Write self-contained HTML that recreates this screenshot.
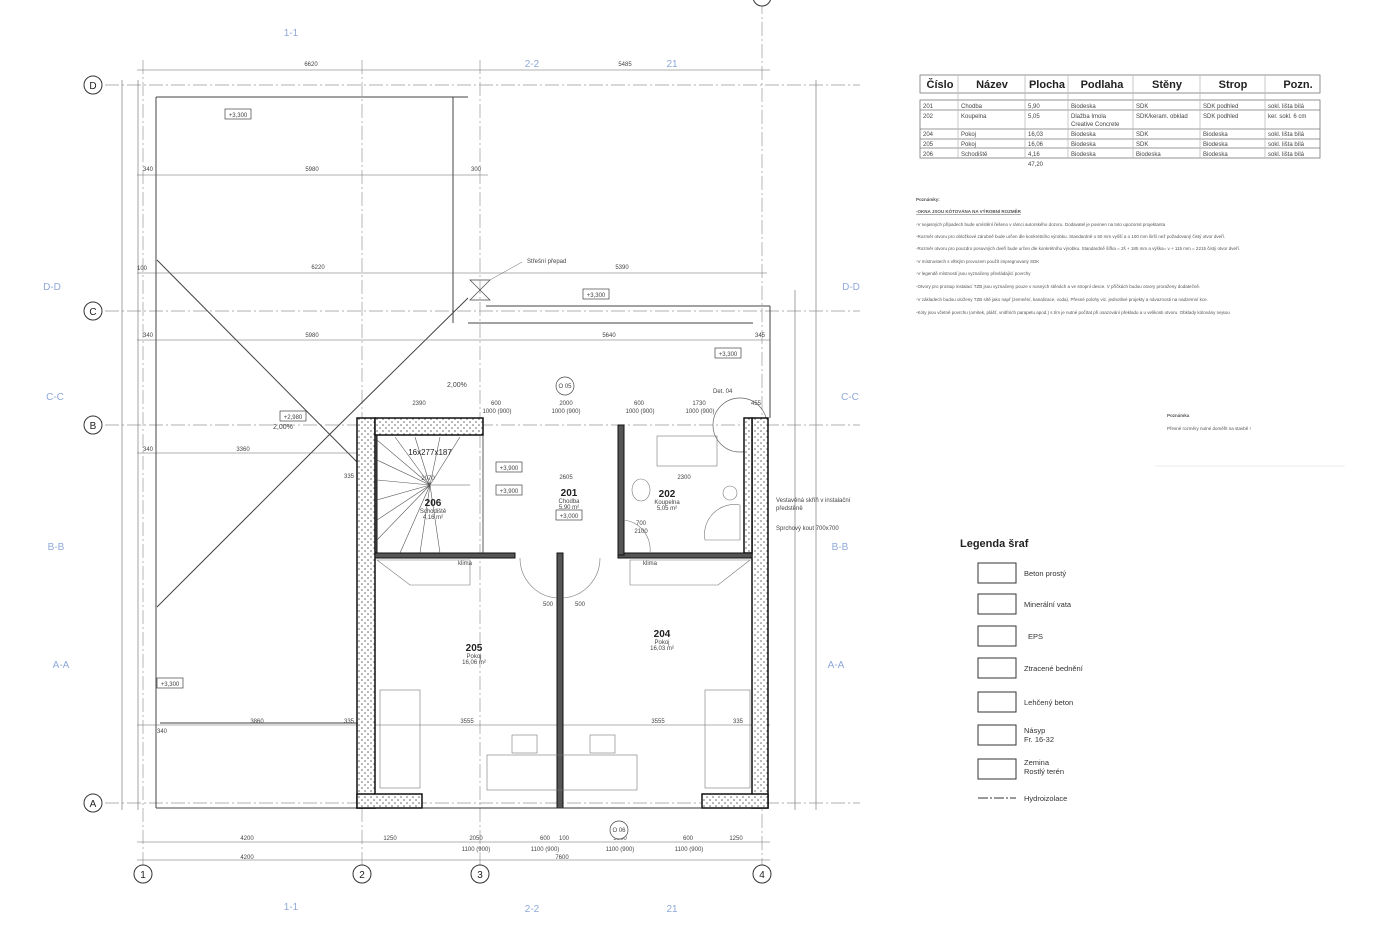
<!DOCTYPE html>
<html><head><meta charset="utf-8"><style>
html,body{margin:0;padding:0;background:#fff;}
svg{display:block;font-family:"Liberation Sans",sans-serif;}
.t{font-size:6px;fill:#444;}
.g{fill:#8fa8d8;font-size:10px;}
</style></head><body>
<svg width="1400" height="932" viewBox="0 0 1400 932" xmlns="http://www.w3.org/2000/svg">
<rect width="1400" height="932" fill="#fff"/>
<defs><pattern id="h" width="6" height="6" patternUnits="userSpaceOnUse"><rect width="6" height="6" fill="#fff"/><circle cx="2" cy="2" r="0.8" fill="#666"/><circle cx="5" cy="5" r="0.8" fill="#666"/></pattern></defs>
<g stroke="#999" stroke-width="0.7" stroke-dasharray="14 3 2 3">
<line x1="105" y1="85" x2="860" y2="85"/><line x1="105" y1="311" x2="860" y2="311"/>
<line x1="105" y1="425" x2="860" y2="425"/><line x1="105" y1="803" x2="860" y2="803"/>
<line x1="143" y1="60" x2="143" y2="865"/><line x1="362" y1="60" x2="362" y2="865"/>
<line x1="480" y1="60" x2="480" y2="865"/><line x1="762" y1="0" x2="762" y2="865"/>
</g>
<g fill="#fff" stroke="#333" stroke-width="1">
<circle cx="93" cy="85" r="9"/><circle cx="93" cy="311" r="9"/><circle cx="93" cy="425" r="9"/><circle cx="93" cy="803" r="9"/>
<circle cx="143" cy="874" r="9"/><circle cx="362" cy="874" r="9"/><circle cx="480" cy="874" r="9"/><circle cx="762" cy="874" r="9"/>
<circle cx="762" cy="-3" r="9"/>
</g>
<g font-size="10" text-anchor="middle" fill="#222">
<text x="93" y="89">D</text><text x="93" y="315">C</text><text x="93" y="429">B</text><text x="93" y="807">A</text>
<text x="143" y="878">1</text><text x="362" y="878">2</text><text x="480" y="878">3</text><text x="762" y="878">4</text>
</g>
<g class="g" text-anchor="middle">
<text x="291" y="36">1-1</text><text x="532" y="67">2-2</text><text x="672" y="67">21</text>
<text x="52" y="290">D-D</text><text x="851" y="290">D-D</text><text x="55" y="400">C-C</text><text x="850" y="400">C-C</text>
<text x="56" y="550">B-B</text><text x="840" y="550">B-B</text><text x="61" y="668">A-A</text><text x="836" y="668">A-A</text>
<text x="291" y="910">1-1</text><text x="532" y="912">2-2</text><text x="672" y="912">21</text>
</g>
<!-- roof outline -->
<g stroke="#444" stroke-width="1" fill="none">
<line x1="156" y1="97" x2="468" y2="97"/>
<line x1="453" y1="97" x2="453" y2="323"/>
<line x1="468" y1="323" x2="753" y2="323"/>
<line x1="486" y1="306" x2="770" y2="306"/><line x1="770" y1="306" x2="770" y2="418"/>
<line x1="156" y1="97" x2="156" y2="808"/>
<line x1="156" y1="808" x2="357" y2="808"/>
<path d="M157 260 L357 462"/><path d="M157 607 L330 434 L468 298"/>
<line x1="160" y1="723" x2="357" y2="723"/>
<path d="M470 280 L490 280 L470 300 L490 300 Z" stroke-width="0.7"/>
</g>
<g stroke="#666" stroke-width="0.6">
<line x1="137" y1="70" x2="770" y2="70"/><line x1="137" y1="175" x2="488" y2="175"/>
<line x1="137" y1="273" x2="767" y2="273"/><line x1="137" y1="340" x2="770" y2="340"/>
<line x1="137" y1="453" x2="357" y2="453"/><line x1="137" y1="725" x2="770" y2="725"/>
<line x1="137" y1="842" x2="770" y2="842"/><line x1="137" y1="860" x2="770" y2="860"/>
<line x1="122" y1="80" x2="122" y2="810"/><line x1="816" y1="80" x2="816" y2="810"/><line x1="795" y1="290" x2="795" y2="810"/>
<line x1="138" y1="80" x2="138" y2="810"/>
</g>
<g class="t" text-anchor="middle">
<text x="311" y="66">6620</text><text x="625" y="66">5485</text>
<text x="148" y="171">340</text><text x="312" y="171">5980</text><text x="476" y="171">300</text>
<text x="318" y="269">6220</text><text x="622" y="269">5390</text><text x="142" y="270">100</text>
<text x="148" y="337">340</text><text x="312" y="337">5980</text><text x="609" y="337">5640</text><text x="760" y="337">345</text>
<text x="148" y="451">340</text><text x="243" y="451">3360</text><text x="349" y="478">335</text>
<text x="419" y="405">2390</text><text x="566" y="405">2000</text><text x="496" y="405">600</text><text x="639" y="405">600</text><text x="699" y="405">1730</text><text x="756" y="405">455</text>
<text x="497" y="413">1000 (900)</text><text x="566" y="413">1000 (900)</text><text x="640" y="413">1000 (900)</text><text x="700" y="413">1000 (900)</text>
<text x="257" y="723">3860</text><text x="349" y="723">335</text><text x="467" y="723">3555</text><text x="658" y="723">3555</text><text x="738" y="723">335</text><text x="162" y="733">340</text>
<text x="247" y="840">4200</text><text x="390" y="840">1250</text><text x="476" y="840">2050</text><text x="545" y="840">600</text><text x="564" y="840">100</text><text x="620" y="840">3000</text><text x="688" y="840">600</text><text x="736" y="840">1250</text>
<text x="476" y="851">1100 (900)</text><text x="545" y="851">1100 (900)</text><text x="620" y="851">1100 (900)</text><text x="689" y="851">1100 (900)</text>
<text x="247" y="859">4200</text><text x="562" y="859">7600</text>
<text x="566" y="479">2605</text><text x="684" y="479">2300</text><text x="428" y="480">2070</text>
<text x="548" y="606">500</text><text x="580" y="606">500</text>
</g>
<g class="t">
<text x="527" y="263" font-size="6">Střešní přepad</text>
<line x1="490" y1="280" x2="522" y2="262" stroke="#666" stroke-width="0.5"/>
<text x="447" y="387" font-size="7">2,00%</text><text x="273" y="429" font-size="7">2,00%</text>
<text x="713" y="393" font-size="6">Det. 04</text>
<text x="776" y="502" font-size="6">Vestavěná skříň v instalační</text><text x="776" y="510" font-size="6">předstěně</text>
<text x="776" y="530" font-size="6">Sprchový kout 700x700</text>
</g>
<g fill="#fff" stroke="#444" stroke-width="0.7">
<rect x="225" y="109" width="26" height="10"/><rect x="583" y="289" width="26" height="10"/>
<rect x="715" y="348" width="26" height="10"/><rect x="280" y="411" width="26" height="10"/>
<rect x="157" y="678" width="26" height="10"/>
<rect x="496" y="462" width="26" height="10"/><rect x="496" y="485" width="26" height="10"/><rect x="556" y="510" width="26" height="10"/>
</g>
<g class="t" text-anchor="middle">
<text x="238" y="117">+3,300</text><text x="596" y="297">+3,300</text><text x="728" y="356">+3,300</text><text x="293" y="419">+2,980</text>
<text x="170" y="686">+3,300</text><text x="509" y="470">+3,900</text><text x="509" y="493">+3,900</text><text x="569" y="518">+3,000</text>
</g>
<circle cx="565" cy="386" r="9" fill="#fff" stroke="#444" stroke-width="0.7"/><text x="565" y="388" class="t" text-anchor="middle">O 05</text>
<circle cx="619" cy="830" r="9" fill="#fff" stroke="#444" stroke-width="0.7"/><text x="619" y="832" class="t" text-anchor="middle">O 06</text>
<circle cx="740" cy="425" r="27" fill="none" stroke="#666" stroke-width="0.7"/>
<!-- walls -->
<g fill="url(#h)" stroke="#111" stroke-width="1.5">
<rect x="357" y="418" width="18" height="390"/>
<rect x="752" y="418" width="16" height="390"/>
<rect x="744" y="418" width="8" height="135"/>
<rect x="357" y="794" width="65" height="14"/>
<rect x="702" y="794" width="66" height="14"/>
<rect x="375" y="418" width="108" height="17"/>
</g>
<g fill="#555" stroke="#111" stroke-width="1">
<rect x="375" y="553" width="140" height="5"/><rect x="618" y="553" width="134" height="5"/>
<rect x="557" y="553" width="6" height="255"/><rect x="618" y="425" width="6" height="130"/>
<rect x="375" y="435" width="2" height="118"/>
</g>
<line x1="483" y1="553" x2="483" y2="435" stroke="#333" stroke-width="0.8"/>
<line x1="422" y1="808" x2="702" y2="808" stroke="#333" stroke-width="1"/>
<g stroke="#555" stroke-width="0.6" fill="none">
<path d="M430 485 L377 440 M430 485 L395 437 M430 485 L415 437 M430 485 L440 437 M430 485 L460 437 M430 485 L377 460 M430 485 L377 480 M430 485 L377 500 M430 485 L377 520 M430 485 L377 540 M430 485 L400 553 M430 485 L420 553 M430 485 L440 553"/>
<line x1="430" y1="485" x2="470" y2="485"/>
</g>
<g stroke="#777" stroke-width="0.6" fill="none">
<rect x="657" y="436" width="60" height="30"/>
<ellipse cx="641" cy="490" rx="9" ry="11"/><circle cx="730" cy="493" r="7"/>
<path d="M740 505 A30 30 0 0 0 705 540 H740 Z"/>
<path d="M377 560 L410 585 H470 L470 560 Z"/><path d="M750 560 L718 585 H630 L630 560 Z"/>
<rect x="380" y="690" width="40" height="98"/><rect x="705" y="690" width="45" height="98"/>
<rect x="512" y="735" width="25" height="18"/><rect x="590" y="735" width="25" height="18"/>
<rect x="487" y="755" width="150" height="35"/>
<path d="M520 558 A40 40 0 0 0 557 598"/><path d="M600 558 A40 40 0 0 1 563 598"/>
<path d="M624 520 A30 30 0 0 1 650 553"/>
</g>
<g text-anchor="middle" fill="#222">
<text x="433" y="506" font-size="10" font-weight="bold">206</text><text x="433" y="513" class="t">Schodiště</text><text x="433" y="519" class="t">4,16 m²</text>
<text x="430" y="455" font-size="8">16x277x187</text>
<text x="569" y="496" font-size="10" font-weight="bold">201</text><text x="569" y="503" class="t">Chodba</text><text x="569" y="509" class="t">5,90 m²</text>
<text x="667" y="497" font-size="10" font-weight="bold">202</text><text x="667" y="504" class="t">Koupelna</text><text x="667" y="510" class="t">5,05 m²</text>
<text x="474" y="651" font-size="10" font-weight="bold">205</text><text x="474" y="658" class="t">Pokoj</text><text x="474" y="664" class="t">16,06 m²</text>
<text x="662" y="637" font-size="10" font-weight="bold">204</text><text x="662" y="644" class="t">Pokoj</text><text x="662" y="650" class="t">16,03 m²</text>
<text x="641" y="525" class="t">700</text><text x="641" y="533" class="t">2100</text>
<text x="465" y="565" class="t">klima</text><text x="650" y="565" class="t">klima</text>
</g>
<g fill="none" stroke="#777" stroke-width="0.8">
<rect x="920" y="75" width="400" height="18"/>
<rect x="920" y="100" width="400" height="58"/>
<line x1="920" y1="110" x2="1320" y2="110"/><line x1="920" y1="129" x2="1320" y2="129"/>
<line x1="920" y1="139" x2="1320" y2="139"/><line x1="920" y1="148" x2="1320" y2="148"/>
<g stroke="#bbb"><line x1="958" y1="75" x2="958" y2="158"/><line x1="1025" y1="75" x2="1025" y2="158"/><line x1="1068" y1="75" x2="1068" y2="158"/><line x1="1133" y1="75" x2="1133" y2="158"/><line x1="1200" y1="75" x2="1200" y2="158"/><line x1="1265" y1="75" x2="1265" y2="158"/></g>
</g>
<g font-size="11" font-weight="bold" fill="#222" text-anchor="middle">
<text x="940" y="88">Číslo</text><text x="992" y="88">Název</text><text x="1047" y="88">Plocha</text><text x="1102" y="88">Podlaha</text><text x="1167" y="88">Stěny</text><text x="1233" y="88">Strop</text><text x="1298" y="88">Pozn.</text>
</g>
<g font-size="6" fill="#444">
<text x="923" y="108">201</text><text x="961" y="108">Chodba</text><text x="1028" y="108">5,90</text><text x="1071" y="108">Biodeska</text><text x="1136" y="108">SDK</text><text x="1203" y="108">SDK podhled</text><text x="1268" y="108">sokl. lišta bílá</text>
<text x="923" y="118">202</text><text x="961" y="118">Koupelna</text><text x="1028" y="118">5,05</text><text x="1071" y="118">Dlažba Imola</text><text x="1071" y="126">Creative Concrete</text><text x="1136" y="118">SDK/keram. obklad</text><text x="1203" y="118">SDK podhled</text><text x="1268" y="118">ker. sokl. 6 cm</text>
<text x="923" y="136">204</text><text x="961" y="136">Pokoj</text><text x="1028" y="136">16,03</text><text x="1071" y="136">Biodeska</text><text x="1136" y="136">SDK</text><text x="1203" y="136">Biodeska</text><text x="1268" y="136">sokl. lišta bílá</text>
<text x="923" y="146">205</text><text x="961" y="146">Pokoj</text><text x="1028" y="146">16,06</text><text x="1071" y="146">Biodeska</text><text x="1136" y="146">SDK</text><text x="1203" y="146">Biodeska</text><text x="1268" y="146">sokl. lišta bílá</text>
<text x="923" y="156">206</text><text x="961" y="156">Schodiště</text><text x="1028" y="156">4,16</text><text x="1071" y="156">Biodeska</text><text x="1136" y="156">Biodeska</text><text x="1203" y="156">Biodeska</text><text x="1268" y="156">sokl. lišta bílá</text>
<text x="1028" y="166">47,20</text>
</g>
<g font-size="4.5" fill="#555">
<text x="916" y="201" font-weight="bold">Poznámky:</text>
<text x="916" y="213" text-decoration="underline" font-weight="bold">-OKNA JSOU KÓTOVÁNA NA VÝROBNÍ ROZMĚR</text>
<text x="916" y="226">-V nejasných případech bude umístění řešeno v rámci autorského dozoru. Dodavatel je povinen na toto upozornit projektanta</text>
<text x="916" y="238">-Rozměr otvoru pro obložkové zárubně bude určen dle konkrétního výrobku. Standardně o 50 mm vyšší a o 100 mm širší než požadovaný čistý otvor dveří.</text>
<text x="916" y="250">-Rozměr otvoru pro pouzdro posuvných dveří bude určen dle konkrétního výrobku. Standardně šířka = 2š + 185 mm a výška= v + 115 mm = 2215 čistý otvor dveří.</text>
<text x="916" y="263">-V místnostech s vlhkým provozem použít impregnovaný SDK</text>
<text x="916" y="275">-V legendě místností jsou vyznačeny převládající povrchy</text>
<text x="916" y="288">-Otvory pro prostup instalací TZB jsou vyznačeny pouze v nosných stěnách a ve stropní desce. V příčkách budou otvory proraženy dodatečně.</text>
<text x="916" y="301">-V základech budou uloženy TZB sítě jako např (zemnění, kanalizace, voda). Přesné polohy viz. jednotlivé projekty a návaznosti na nadzemní kce.</text>
<text x="916" y="314">-Kóty jsou včetně povrchu (omítek, plášť, vnitřních parapetu apod.) s tím je nutné počítat při osazování překladu a u velikosti otvoru. Obklady kótovány nejsou</text>
<text x="1167" y="417" font-weight="bold">Poznámka</text>
<text x="1167" y="430">Přesné rozměry nutné doměřit na stavbě !</text>
</g>
<line x1="1155" y1="466" x2="1345" y2="466" stroke="#eee" stroke-width="1"/>
<text x="960" y="547" font-size="11" font-weight="bold" fill="#222">Legenda šraf</text>
<g fill="none" stroke="#333" stroke-width="1">
<rect x="978" y="563" width="38" height="20"/><rect x="978" y="594" width="38" height="20"/><rect x="978" y="626" width="38" height="20"/>
<rect x="978" y="658" width="38" height="20"/><rect x="978" y="692" width="38" height="20"/><rect x="978" y="725" width="38" height="20"/><rect x="978" y="759" width="38" height="20"/>
<line x1="978" y1="798" x2="1016" y2="798" stroke-dasharray="10 2 2 2"/>
</g>
<g font-size="7.5" fill="#333">
<text x="1024" y="576">Beton prostý</text><text x="1024" y="607">Minerální vata</text><text x="1028" y="639">EPS</text>
<text x="1024" y="671">Ztracené bednění</text><text x="1024" y="705">Lehčený beton</text>
<text x="1024" y="733">Násyp</text><text x="1024" y="742">Fr. 16-32</text>
<text x="1024" y="765">Zemina</text><text x="1024" y="774">Rostlý terén</text>
<text x="1024" y="801">Hydroizolace</text>
</g>
</svg>
</body></html>
